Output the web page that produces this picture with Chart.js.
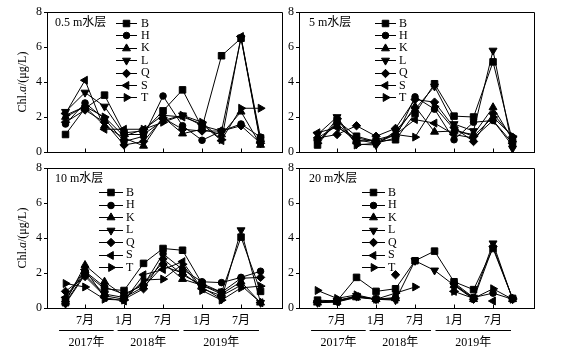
<!DOCTYPE html>
<html><head><meta charset="utf-8">
<script src="https://cdn.jsdelivr.net/npm/chart.js@4.4.0/dist/chart.umd.min.js"></script>
<style>
html,body{margin:0;padding:0;background:#fff;}
#wrap{position:relative;width:581px;height:355px;overflow:hidden;background:#fff;}
canvas{position:absolute;left:0;top:0;}
</style></head><body>
<div id="wrap">
<canvas id="c0" width="581" height="355"></canvas>
<canvas id="c1" width="581" height="355"></canvas>
<canvas id="c2" width="581" height="355"></canvas>
<canvas id="c3" width="581" height="355"></canvas>
</div>
<script>
// ---------- data ----------
const stations = ['B','H','K','L','Q','S','T'];
const tickPositions = [1, 3, 5, 7, 9];
const tickLabels = ['7月','1月','7月','1月','7月'];
const yearLabels = ['2017年','2018年','2019年'];
const yearStart = [-0.33, 2.67, 6.05];
const yearEnd = [2.47, 5.82, 9.92];
const layerTitles = ['0.5 m水层','5 m水层','10 m水层','20 m水层'];
const yTicks = [0, 2, 4, 6, 8];

// 0.5 m layer
const m05_B = [1.0, 2.5, 3.25, 1.1, 1.2, 2.35, 3.55, 1.4, 5.5, 6.5, 0.8];
const m05_H = [1.6, 2.8, 1.9, 0.6, 0.9, 3.2, 1.5, 0.67, 1.2, 1.6, 0.85];
const m05_K = [2.0, 2.6, 1.5, 0.8, 0.35, 2.0, 1.05, 1.3, 1.0, 2.3, 0.4];
const m05_L = [2.3, 3.4, 2.6, 1.0, 1.0, 1.8, 2.1, 1.5, 1.2, 6.5, 0.5];
const m05_Q = [1.7, 2.4, 1.7, 0.4, 0.6, 1.95, 1.3, 1.2, 1.2, 1.5, 0.5];
const m05_S = [2.2, 4.1, 1.3, 1.3, 1.3, 2.1, 2.0, 1.6, 0.65, 6.6, 0.55];
const m05_T = [2.1, 2.6, 2.0, 0.9, 1.3, 1.7, 2.1, 1.7, 0.7, 2.5, 2.5];

// 5 m layer
const m5_B = [0.4, 1.8, 0.9, 0.6, 0.7, 2.2, 3.9, 2.05, 2.0, 5.15, 0.6];
const m5_H = [0.6, 1.6, 0.7, 0.5, 0.8, 3.15, 2.45, 0.7, 1.7, 1.8, 0.35];
const m5_K = [0.8, 1.5, 0.6, 0.7, 1.0, 2.6, 1.15, 1.2, 1.0, 2.55, 0.7];
const m5_L = [1.0, 2.0, 0.45, 0.4, 1.2, 2.45, 3.75, 1.6, 1.2, 5.8, 0.2];
const m5_Q = [0.8, 1.0, 1.5, 0.9, 1.35, 3.0, 2.85, 1.4, 0.6, 2.2, 0.85];
const m5_S = [1.1, 1.4, 0.8, 0.6, 1.0, 1.85, 1.65, 1.0, 0.8, 1.8, 0.5];
const m5_T = [0.5, 1.9, 0.4, 0.5, 1.0, 0.85, 2.6, 1.3, 0.9, 2.0, 0.9];

// 10 m layer
const m10_B = [0.3, 2.0, 1.1, 1.0, 2.55, 3.4, 3.3, 1.4, 0.9, 4.05, 0.95];
const m10_H = [0.5, 2.1, 1.2, 0.8, 1.3, 3.1, 2.2, 1.5, 1.45, 1.75, 2.1];
const m10_K = [0.35, 2.45, 1.5, 0.7, 1.4, 2.6, 1.65, 1.3, 0.8, 1.5, 0.3];
const m10_L = [0.25, 1.9, 0.8, 0.6, 1.2, 2.4, 2.0, 1.2, 0.5, 4.45, 0.3];
const m10_Q = [0.95, 1.8, 0.7, 0.5, 1.1, 2.8, 1.9, 1.3, 0.9, 1.7, 1.75];
const m10_S = [0.6, 2.2, 0.6, 0.4, 1.9, 2.2, 2.65, 1.1, 0.7, 1.3, 0.3];
const m10_T = [1.4, 1.2, 0.5, 0.45, 1.6, 1.65, 2.5, 1.0, 0.45, 1.15, 1.25];

// 20 m layer
const m20_B = [0.45, 0.4, 1.75, 0.95, 1.1, 2.7, 3.25, 1.5, 1.05, 3.4, 0.55];
const m20_H = [0.35, 0.4, 0.65, 0.5, 0.6, null, null, 1.45, 0.6, 0.85, 0.5];
const m20_K = [0.3, 0.35, 0.6, 0.5, 0.55, null, null, 1.3, 0.5, null, 0.5];
const m20_L = [0.3, 0.4, 0.7, 0.5, 0.45, 2.7, 2.15, 1.3, 0.6, 3.7, 0.5];
const m20_Q = [0.35, 0.45, 0.65, null, 1.9, null, null, 1.4, 0.5, 3.5, 0.55];
const m20_S = [0.3, 0.35, 0.65, 0.5, 0.5, null, null, 0.95, null, 0.4, null];
const m20_T = [1.0, 0.55, 0.75, 0.5, 0.85, 1.2, null, 0.95, 0.55, 1.1, 0.5];

// ---------- style ----------
const markers = [
  {style:'rect', rot:0, r:4.6},
  {style:'circle', rot:0, r:3.3},
  {style:'triangle', rot:0, r:4.6},
  {style:'triangle', rot:180, r:4.6},
  {style:'rectRot', rot:0, r:4.2},
  {style:'triangle', rot:-90, r:4.6},
  {style:'triangle', rot:90, r:4.6}
];
const FONT = '"Liberation Serif","Times New Roman","Noto Sans CJK SC",serif';
const W = 581, H = 355, YW = 20, XH = 22;

const panels = [
  {id:'c0', series:[m05_B,m05_H,m05_K,m05_L,m05_Q,m05_S,m05_T], title:layerTitles[0],
   area:{l:47,r:282,t:12,b:152}, bottom:false, left:true,
   tx:55, ty:23, lx1:116, lx2:137, lab:141, ly0:23, lstep:12.4},
  {id:'c1', series:[m5_B,m5_H,m5_K,m5_L,m5_Q,m5_S,m5_T], title:layerTitles[1],
   area:{l:299,r:534,t:12,b:152}, bottom:false, left:false,
   tx:309, ty:23, lx1:375, lx2:396, lab:399, ly0:23, lstep:12.4},
  {id:'c2', series:[m10_B,m10_H,m10_K,m10_L,m10_Q,m10_S,m10_T], title:layerTitles[2],
   area:{l:47,r:282,t:168,b:308}, bottom:true, left:true,
   tx:55, ty:179, lx1:99, lx2:123, lab:126, ly0:192, lstep:12.5},
  {id:'c3', series:[m20_B,m20_H,m20_K,m20_L,m20_Q,m20_S,m20_T], title:layerTitles[3],
   area:{l:299,r:534,t:168,b:308}, bottom:true, left:false,
   tx:309, ty:179, lx1:362, lx2:385, lab:388, ly0:192, lstep:12.5}
];

function al(p){ return Math.round(p - 0.5) + 0.5; }

function drawMarker(ctx, m, x, y){
  if (window.Chart && Chart.helpers && Chart.helpers.drawPoint) {
    Chart.helpers.drawPoint(ctx, {pointStyle:m.style, rotation:m.rot, radius:m.r, borderWidth:1}, x, y);
  }
}

function makeChart(cfg){
  const datasets = stations.map((s, k) => ({
    label: s,
    data: cfg.series[k].map((v, i) => ({x:i, y:v})),
    borderColor:'#000', backgroundColor:'#000', borderWidth:1,
    pointStyle: markers[k].style, pointRotation: markers[k].rot, pointRadius: markers[k].r,
    pointBackgroundColor:'#000', pointBorderColor:'#000', pointBorderWidth:1,
    tension:0, spanGaps:false, fill:false
  }));
  const deco = {
    id:'deco_'+cfg.id,
    afterDraw(chart){
      const ctx = chart.ctx, a = chart.chartArea, xs = chart.scales.x;
      ctx.save();
      ctx.strokeStyle = '#000'; ctx.fillStyle = '#000'; ctx.lineWidth = 1;
      // frame
      ctx.beginPath();
      ctx.moveTo(al(a.left), al(a.top)); ctx.lineTo(al(a.right), al(a.top));
      ctx.lineTo(al(a.right), al(a.bottom)); ctx.lineTo(al(a.left), al(a.bottom)); ctx.closePath();
      ctx.stroke();
      // inward x ticks
      ctx.beginPath();
      tickPositions.forEach(p => {
        const x = al(xs.getPixelForValue(p));
        ctx.moveTo(x, al(a.bottom)); ctx.lineTo(x, al(a.bottom) - 4);
      });
      ctx.stroke();
      // panel title
      ctx.font = '12px ' + FONT;
      ctx.textBaseline = 'middle'; ctx.textAlign = 'left';
      ctx.fillText(cfg.title, cfg.tx, cfg.ty);
      // legend
      stations.forEach((s, k) => {
        const y = cfg.ly0 + k * cfg.lstep;
        ctx.beginPath(); ctx.moveTo(cfg.lx1, Math.round(y)+0.5); ctx.lineTo(cfg.lx2, Math.round(y)+0.5); ctx.stroke();
        drawMarker(ctx, markers[k], (cfg.lx1 + cfg.lx2)/2, Math.round(y)+0.5);
        ctx.fillStyle = '#000';
        ctx.fillText(s, cfg.lab, y + 0.5);
      });
      // y title
      if (cfg.left) {
        ctx.save();
        ctx.translate(23, (a.top + a.bottom)/2);
        ctx.rotate(-Math.PI/2);
        const parts = [['Chl.', ''], ['a', 'italic '], ['/(μg/L)', '']];
        let total = 0;
        parts.forEach(p => { ctx.font = p[1] + '12px ' + FONT; total += ctx.measureText(p[0]).width; });
        let x = -total/2;
        ctx.textBaseline = 'middle'; ctx.textAlign = 'left';
        parts.forEach(p => { ctx.font = p[1] + '12px ' + FONT; ctx.fillText(p[0], x, 0); x += ctx.measureText(p[0]).width; });
        ctx.restore();
      }
      // year brackets
      if (cfg.bottom) {
        ctx.font = '12px ' + FONT; ctx.textAlign = 'center'; ctx.textBaseline = 'middle';
        yearLabels.forEach((yl, i) => {
          const x1 = xs.getPixelForValue(yearStart[i]), x2 = xs.getPixelForValue(yearEnd[i]);
          ctx.beginPath(); ctx.moveTo(x1, 330.5); ctx.lineTo(x2, 330.5); ctx.stroke();
          ctx.fillText(yl, (x1 + x2)/2, 343);
        });
      }
      ctx.restore();
    }
  };
  new Chart(document.getElementById(cfg.id), {
    type:'line',
    data:{datasets},
    options:{
      responsive:false, animation:false, events:[],
      layout:{padding:{left: cfg.area.l - YW, right: W - cfg.area.r, top: cfg.area.t,
                       bottom: H - cfg.area.b - (cfg.bottom ? XH : 0)}},
      plugins:{legend:{display:false}, tooltip:{enabled:false}},
      scales:{
        x:{type:'linear', min:-0.95, max:11.1,
           afterBuildTicks: sc => { sc.ticks = tickPositions.map(v => ({value:v})); },
           afterFit: sc => { sc.height = cfg.bottom ? XH : 0; },
           grid:{display:true, drawOnChartArea:false, drawTicks:false},
           border:{display:true, color:'#000', width:1},
           ticks:{display:cfg.bottom, autoSkip:false, maxRotation:0, padding:6, color:'#000',
                  font:{family:FONT, size:12},
                  callback:(v) => { const i = tickPositions.indexOf(v); return i >= 0 ? tickLabels[i] : ''; }}},
        y:{min:0, max:8,
           afterBuildTicks: sc => { sc.ticks = yTicks.map(v => ({value:v})); },
           afterFit: sc => { sc.width = YW; },
           grid:{display:true, drawOnChartArea:false, drawTicks:true, tickLength:3, color:'#000'},
           border:{display:true, color:'#000', width:1},
           ticks:{padding:2, color:'#000', font:{family:FONT, size:12}}}
      }
    },
    plugins:[deco]
  });
}
panels.forEach(makeChart);
</script>
</body></html>
